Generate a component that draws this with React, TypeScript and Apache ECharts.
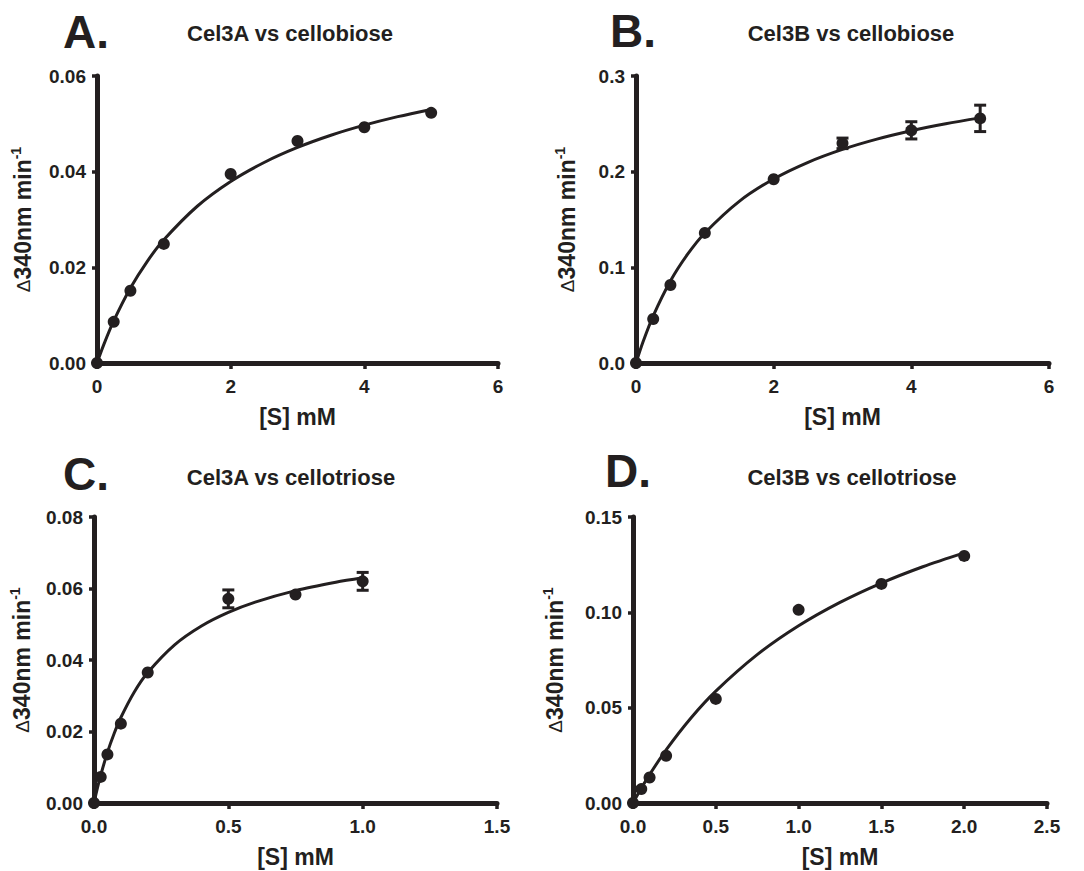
import React, { useEffect, useRef } from "react";
import * as echarts from "echarts";

// ---- Data ----
const panelLetters = ["A.", "B.", "C.", "D."];
const panelTitles = [
  "Cel3A vs cellobiose",
  "Cel3B vs cellobiose",
  "Cel3A vs cellotriose",
  "Cel3B vs cellotriose",
];

// A: Cel3A vs cellobiose
const aX = [0, 0.25, 0.5, 1, 2, 3, 4, 5];
const aY = [0, 0.0086, 0.0151, 0.0249, 0.0395, 0.0464, 0.0493, 0.0523];
const aErr = [0, 0, 0, 0, 0, 0, 0, 0];
const aFitX = [0, 0.1, 0.25, 0.5, 0.75, 1, 1.5, 2, 2.5, 3, 3.5, 4, 4.5, 5];
const aFitY = [0, 0.00379, 0.00879, 0.01567, 0.02121, 0.02575, 0.03277, 0.03795, 0.04192, 0.04506, 0.04761, 0.04972, 0.0515, 0.05301];

// B: Cel3B vs cellobiose
const bX = [0, 0.25, 0.5, 1, 2, 3, 4, 5];
const bY = [0, 0.046, 0.0815, 0.136, 0.192, 0.2296, 0.2432, 0.2557];
const bErr = [0, 0, 0, 0, 0, 0.0055, 0.009, 0.0138];
const bFitX = [0, 0.1, 0.25, 0.5, 0.75, 1, 1.5, 2, 2.5, 3, 3.5, 4, 4.5, 5];
const bFitY = [0, 0.02164, 0.04925, 0.08568, 0.11371, 0.13595, 0.16901, 0.1924, 0.20982, 0.2233, 0.23404, 0.2428, 0.25008, 0.25623];

// C: Cel3A vs cellotriose
const cX = [0, 0.025, 0.05, 0.1, 0.2, 0.5, 0.75, 1.0];
const cY = [0, 0.0073, 0.0136, 0.0222, 0.0365, 0.0571, 0.0583, 0.062];
const cErr = [0, 0, 0, 0, 0, 0.0025, 0, 0.0025];
const cFitX = [0, 0.01, 0.025, 0.05, 0.075, 0.1, 0.15, 0.2, 0.3, 0.4, 0.5, 0.6, 0.75, 0.9, 1.0];
const cFitY = [0, 0.00332, 0.00779, 0.01415, 0.01944, 0.02391, 0.03105, 0.03649, 0.04425, 0.04952, 0.05332, 0.0562, 0.05941, 0.06176, 0.06301];

// D: Cel3B vs cellotriose
const dX = [0, 0.05, 0.1, 0.2, 0.5, 1.0, 1.5, 2.0];
const dY = [0, 0.0073, 0.0134, 0.0248, 0.0546, 0.1013, 0.1149, 0.1296];
const dErr = [0, 0, 0, 0, 0, 0, 0, 0];
const dFitX = [0, 0.05, 0.1, 0.2, 0.35, 0.5, 0.75, 1, 1.25, 1.5, 1.75, 2];
const dFitY = [0, 0.00769, 0.01487, 0.02788, 0.0446, 0.05868, 0.07779, 0.09292, 0.10519, 0.11534, 0.12389, 0.13118];

// axis ranges
const xMax = [6, 6, 1.5, 2.5];
const xStep = [2, 2, 0.5, 0.5];
const xDigits = [0, 0, 1, 1];
const yMax = [0.06, 0.3, 0.08, 0.15];
const yStep = [0.02, 0.1, 0.02, 0.05];
const yDigits = [2, 1, 2, 2];
const xAxisTitle = "[S] mM";

const INK = "#231f20";
const FONT = "'Liberation Sans', Arial, Helvetica, sans-serif";

const grids = [
  { left: 97, top: 76, width: 401, height: 287 },
  { left: 636, top: 76, width: 413, height: 287 },
  { left: 94, top: 517, width: 403, height: 286 },
  { left: 633, top: 517, width: 414, height: 286 },
];
const yNameGap = [60, 55, 58, 64];
const letterPos = [
  [63, 31.5],
  [610, 31],
  [63, 474],
  [605, 471],
];
const titlePos = [
  [290, 33],
  [851, 33],
  [291, 477],
  [852, 477],
];

const panels = [
  { x: aX, y: aY, err: aErr, fx: aFitX, fy: aFitY },
  { x: bX, y: bY, err: bErr, fx: bFitX, fy: bFitY },
  { x: cX, y: cY, err: cErr, fx: cFitX, fy: cFitY },
  { x: dX, y: dY, err: dErr, fx: dFitX, fy: dFitY },
];

function buildOption(): any {
  const xAxis: any[] = [];
  const yAxis: any[] = [];
  const series: any[] = [];
  const graphic: any[] = [];

  panels.forEach((p, i) => {
    xAxis.push({
      type: "value",
      gridIndex: i,
      min: 0,
      max: xMax[i],
      interval: xStep[i],
      name: xAxisTitle,
      nameLocation: "middle",
      nameGap: 42,
      nameTextStyle: { fontFamily: FONT, fontWeight: "bold", fontSize: 23, color: INK },
      axisLine: { show: true, lineStyle: { color: INK, width: 5 } },
      axisTick: { show: true, length: 6, lineStyle: { color: INK, width: 3.5 } },
      axisLabel: {
        margin: 14,
        fontFamily: FONT,
        fontWeight: "bold",
        fontSize: 19,
        color: INK,
        formatter: (v: number) => v.toFixed(xDigits[i]),
      },
      splitLine: { show: false },
    });
    yAxis.push({
      type: "value",
      gridIndex: i,
      min: 0,
      max: yMax[i],
      interval: yStep[i],
      name: "{d|Δ}{t|340nm min}{s|-1}",
      nameLocation: "middle",
      nameRotate: 90,
      nameGap: yNameGap[i],
      nameTextStyle: {
        color: INK,
        fontFamily: FONT,
        rich: {
          d: { fontSize: 19, fontWeight: "normal", color: INK, fontFamily: FONT, lineHeight: 28 },
          t: { fontSize: 23, fontWeight: "bold", color: INK, fontFamily: FONT, lineHeight: 28 },
          s: { fontSize: 14, fontWeight: "bold", color: INK, fontFamily: FONT, lineHeight: 15, verticalAlign: "top" },
        },
      },
      axisLine: { show: true, lineStyle: { color: INK, width: 5 } },
      axisTick: { show: true, length: 5, lineStyle: { color: INK, width: 3.5 } },
      axisLabel: {
        margin: 11,
        fontFamily: FONT,
        fontWeight: "bold",
        fontSize: 19,
        color: INK,
        formatter: (v: number) => v.toFixed(yDigits[i]),
      },
      splitLine: { show: false },
    });

    series.push({
      type: "line",
      xAxisIndex: i,
      yAxisIndex: i,
      data: p.fx.map((x, k) => [x, p.fy[k]]),
      smooth: 0.3,
      showSymbol: false,
      symbol: "none",
      lineStyle: { color: INK, width: 3 },
      z: 3,
    });
    series.push({
      type: "scatter",
      xAxisIndex: i,
      yAxisIndex: i,
      data: p.x.map((x, k) => [x, p.y[k]]),
      symbol: "circle",
      symbolSize: 12,
      itemStyle: { color: INK, opacity: 1 },
      clip: false,
      z: 4,
    });
    const errData = p.x
      .map((x, k) => [x, p.y[k], p.err[k]])
      .filter((d) => d[2] > 0);
    if (errData.length) {
      series.push({
        type: "custom",
        xAxisIndex: i,
        yAxisIndex: i,
        data: errData,
        z: 5,
        renderItem: (_params: any, api: any) => {
          const x = api.value(0);
          const y = api.value(1);
          const e = api.value(2);
          const top = api.coord([x, y + e]);
          const bot = api.coord([x, y - e]);
          const hw = 6;
          const st = { stroke: INK, lineWidth: 3 };
          return {
            type: "group",
            children: [
              { type: "line", shape: { x1: top[0], y1: top[1], x2: bot[0], y2: bot[1] }, style: st },
              { type: "line", shape: { x1: top[0] - hw, y1: top[1], x2: top[0] + hw, y2: top[1] }, style: st },
              { type: "line", shape: { x1: bot[0] - hw, y1: bot[1], x2: bot[0] + hw, y2: bot[1] }, style: st },
            ],
          };
        },
      });
    }

    graphic.push({
      type: "text",
      x: letterPos[i][0],
      y: letterPos[i][1],
      style: {
        text: panelLetters[i],
        font: `bold 46px ${FONT}`,
        fill: INK,
        align: "left",
        verticalAlign: "middle",
      },
    });
    graphic.push({
      type: "text",
      x: titlePos[i][0],
      y: titlePos[i][1],
      style: {
        text: panelTitles[i],
        font: `bold 22px ${FONT}`,
        fill: INK,
        align: "center",
        verticalAlign: "middle",
      },
    });
  });

  return {
    animation: false,
    backgroundColor: "#ffffff",
    grid: grids.map((g) => ({ ...g, containLabel: false })),
    xAxis,
    yAxis,
    series,
    graphic,
  };
}

export default function App() {
  const ref = useRef<HTMLDivElement>(null);
  useEffect(() => {
    if (!ref.current) return;
    const chart = echarts.init(ref.current, undefined, { renderer: "svg" });
    chart.setOption(buildOption());
    return () => chart.dispose();
  }, []);
  return (
    <div
      ref={ref}
      style={{ position: "fixed", left: 0, top: 0, width: 1084, height: 871, background: "#fff" }}
    />
  );
}
